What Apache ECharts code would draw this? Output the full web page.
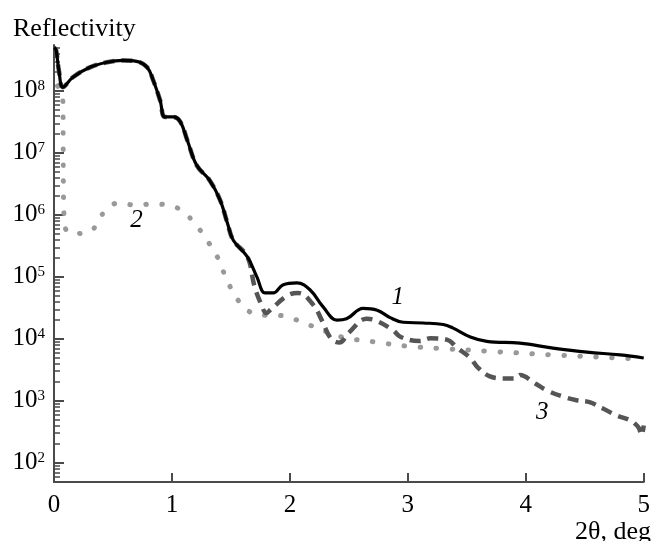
<!DOCTYPE html>
<html>
<head>
<meta charset="utf-8">
<script src="https://cdn.jsdelivr.net/npm/echarts@6/dist/echarts.min.js"></script>
<style>
  html, body { margin: 0; padding: 0; background: #fff; }
  #chart { width: 653px; height: 541px; }
</style>
</head>
<body>
<div id="chart"></div>
<script>
// curve 1 - solid black
const curve1X = [0, 0.017, 0.042, 0.076, 0.16, 0.305, 0.45, 0.585, 0.70, 0.79, 0.84, 0.90, 0.94, 1.01, 1.07, 1.13, 1.21, 1.32, 1.41, 1.47, 1.52, 1.64, 1.72, 1.79, 1.86, 1.94, 2.06, 2.17, 2.28, 2.40, 2.48, 2.62, 2.74, 2.85, 2.96, 3.13, 3.30, 3.38, 3.53, 3.67, 3.95, 4.23, 4.52, 4.80, 5.00]
const curve1Y = [5.0e8, 4.6e8, 2.1e8, 1.15e8, 1.66e8, 2.4e8, 2.9e8, 3.1e8, 3.0e8, 2.4e8, 1.5e8, 7e7, 3.8e7, 3.8e7, 3.2e7, 1.6e7, 6.3e6, 3.6e6, 1.7e6, 7.4e5, 3.9e5, 2.1e5, 1.0e5, 5.5e4, 5.5e4, 7.4e4, 8.0e4, 6.2e4, 3.3e4, 2.0e4, 2.1e4, 3.1e4, 2.9e4, 2.2e4, 1.85e4, 1.8e4, 1.7e4, 1.5e4, 1.07e4, 9.1e3, 8.5e3, 7.1e3, 6.1e3, 5.5e3, 4.9e3]

// curve 2 - light grey dots
const curve2X = [0.03, 0.075, 0.078, 0.08, 0.085, 0.11, 0.195, 0.32, 0.415, 0.54, 0.69, 0.83, 0.97, 1.09, 1.22, 1.31, 1.39, 1.45, 1.52, 1.62, 1.75, 1.89, 2.03, 2.17, 2.44, 2.72, 3.00, 3.27, 3.69, 4.23, 4.80, 5.00]
const curve2Y = [1.2e8, 7e7, 1.1e7, 2.5e6, 1.0e6, 5.4e5, 5.0e5, 5.6e5, 1.05e6, 1.55e6, 1.44e6, 1.49e6, 1.44e6, 1.15e6, 6.3e5, 3.6e5, 2.0e5, 1.05e5, 5.6e4, 3.1e4, 2.4e4, 2.4e4, 2.1e4, 1.66e4, 1.07e4, 8.9e3, 7.6e3, 7.0e3, 6.3e3, 5.5e3, 4.9e3, 4.7e3]

// curve 3 - dark grey dashes
const curve3X = [0, 0.017, 0.042, 0.076, 0.16, 0.305, 0.45, 0.585, 0.70, 0.79, 0.84, 0.90, 0.94, 1.01, 1.07, 1.13, 1.21, 1.32, 1.41, 1.47, 1.52, 1.64, 1.70, 1.76, 1.80, 1.84, 1.98, 2.07, 2.20, 2.27, 2.35, 2.42, 2.50, 2.65, 2.72, 2.87, 2.94, 3.10, 3.19, 3.33, 3.42, 3.53, 3.59, 3.69, 3.81, 3.92, 3.95, 4.08, 4.18, 4.31, 4.43, 4.54, 4.65, 4.77, 4.88, 4.93, 4.96, 4.98, 5.00]
const curve3Y = [5.0e8, 4.6e8, 2.1e8, 1.15e8, 1.66e8, 2.4e8, 2.9e8, 3.1e8, 3.0e8, 2.4e8, 1.5e8, 7e7, 3.8e7, 3.8e7, 3.2e7, 1.6e7, 6.3e6, 3.6e6, 1.7e6, 7.4e5, 3.9e5, 2.1e5, 7e4, 3.5e4, 2.6e4, 3.0e4, 5.0e4, 5.5e4, 3.5e4, 2.0e4, 1.0e4, 8.7e3, 1.26e4, 2.1e4, 2.0e4, 1.4e4, 1.07e4, 9.2e3, 1.02e4, 9.7e3, 7.1e3, 4.9e3, 3.5e3, 2.5e3, 2.3e3, 2.3e3, 2.6e3, 1.9e3, 1.47e3, 1.18e3, 1.02e3, 9.5e2, 7.6e2, 5.8e2, 4.9e2, 4.2e2, 3.6e2, 2.8e2, 4.0e2]

// curve numbers written next to the lines
const curveLabels = ['1', '2', '3']
const curveLabelX = [2.915, 0.70, 4.14]
const curveLabelY = [4.7e4, 8.1e5, 6.6e2]

const xTicks = [0, 1, 2, 3, 4, 5]
const yMajorTicks = [1e2, 1e3, 1e4, 1e5, 1e6, 1e7, 1e8]
const yMin = 49, yMax = 5.5e8

const yMinorTicks = []
;[10].concat(yMajorTicks).forEach(d => {
  for (let k = 2; k <= 9; k++) {
    const v = d * k
    if (v >= yMin && v <= yMax) yMinorTicks.push(v)
  }
})

const zip = (xs, ys) => xs.map((x, i) => [x, ys[i]])
const serif = 'Liberation Serif'
const axisGrey = '#4a4a4a'

const numLabel = (i) => ({
  data: [{
    coord: [curveLabelX[i], curveLabelY[i]],
    label: {
      show: true, position: 'inside', formatter: curveLabels[i],
      fontFamily: serif, fontStyle: 'italic', fontSize: 25, color: '#000'
    }
  }],
  symbol: 'circle', symbolSize: 0, silent: true,
  itemStyle: { color: 'transparent' }
})

const chart = echarts.init(document.getElementById('chart'))
chart.setOption({
  backgroundColor: '#fff',
  animation: false,
  title: [
    { text: 'Reflectivity', left: 8, top: 11,
      textStyle: { fontFamily: serif, fontSize: 26, fontWeight: 'normal', color: '#000' } },
    { text: '2θ, deg', left: 570, top: 514,
      textStyle: { fontFamily: serif, fontSize: 26, fontWeight: 'normal', color: '#000' } }
  ],
  grid: { left: 54, right: 9, top: 45, bottom: 59 },
  xAxis: {
    type: 'value', min: 0, max: 5, interval: 1,
    axisLine: { lineStyle: { color: axisGrey, width: 2 } },
    axisTick: { inside: true, length: 9, lineStyle: { color: axisGrey, width: 2 } },
    axisLabel: {
      customValues: xTicks, margin: 11,
      fontFamily: serif, fontSize: 25, color: '#000'
    },
    splitLine: { show: false }
  },
  yAxis: [
    {
      type: 'log', logBase: 10, min: yMin, max: yMax,
      axisLine: { show: true, lineStyle: { color: axisGrey, width: 2 } },
      axisTick: { inside: true, length: 10, customValues: yMajorTicks,
        lineStyle: { color: axisGrey, width: 2 } },
      axisLabel: {
        customValues: yMajorTicks, margin: 9,
        fontFamily: serif, fontSize: 25, color: '#000',
        formatter: v => '10{sup|' + Math.round(Math.log10(v)) + '}',
        rich: { sup: { fontFamily: serif, fontSize: 15, color: '#000', verticalAlign: 'top', lineHeight: 12 } }
      },
      splitLine: { show: false }
    },
    {
      type: 'log', logBase: 10, min: yMin, max: yMax, position: 'left',
      axisLine: { show: false },
      axisTick: { inside: true, length: 6, customValues: yMinorTicks,
        lineStyle: { color: axisGrey, width: 1.5 } },
      axisLabel: { show: false },
      splitLine: { show: false }
    }
  ],
  series: [
    {
      name: '2', type: 'line', data: zip(curve2X, curve2Y),
      showSymbol: false, smooth: 0.35,
      lineStyle: { color: '#999', width: 5, type: [0.5, 15.5], cap: 'round' },
      markPoint: numLabel(1)
    },
    {
      name: '3', type: 'line', data: zip(curve3X, curve3Y),
      showSymbol: false, smooth: 0.4,
      lineStyle: { color: '#555', width: 4.5, type: [11, 7] },
      markPoint: numLabel(2)
    },
    {
      name: '1', type: 'line', data: zip(curve1X, curve1Y),
      showSymbol: false, smooth: 0.4,
      lineStyle: { color: '#000', width: 3.2 },
      markPoint: numLabel(0)
    }
  ]
})
</script>
</body>
</html>
